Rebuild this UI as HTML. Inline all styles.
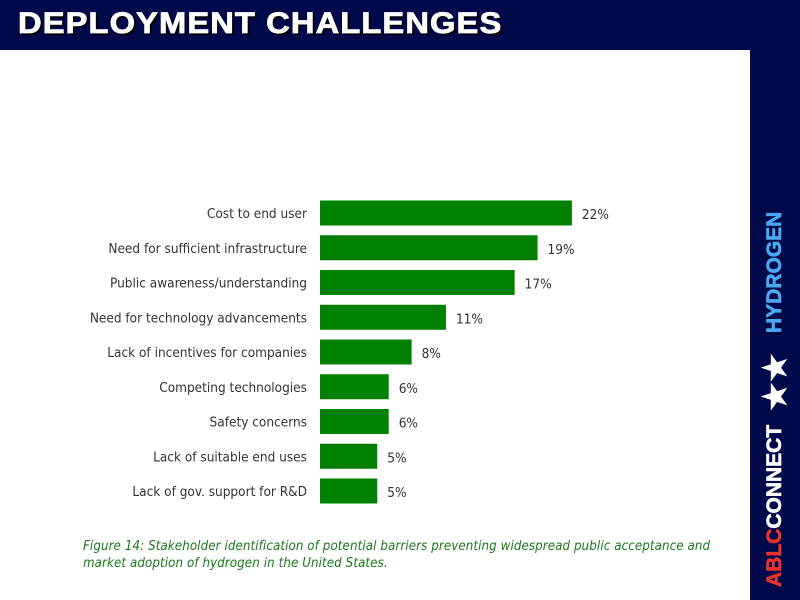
<!DOCTYPE html>
<html><head><meta charset="utf-8"><style>
body{margin:0;width:800px;height:600px;background:#fff;position:relative;overflow:hidden;font-family:"Liberation Sans",sans-serif}
#hdr{position:absolute;left:0;top:0;width:800px;height:50px;background:#000a4a}
#title{position:absolute;left:18px;top:7px;font-size:30px;font-weight:bold;color:#fff;text-shadow:2px 2px 0 #000;letter-spacing:1px;transform:scaleX(1.09);transform-origin:left top;-webkit-text-stroke:0.8px #fff}
#side{position:absolute;left:750px;top:0;width:50px;height:600px;background:#000a4a}
.vt{position:absolute;font-weight:bold;font-size:21px;transform:rotate(-90deg);transform-origin:left top;white-space:nowrap;-webkit-text-stroke:0.6px currentColor}
#cap{position:absolute;left:83px;top:538px;font-size:13.2px;font-style:italic;color:#1a7a1a;line-height:17px;font-family:"DejaVu Sans Condensed","Liberation Sans",sans-serif;letter-spacing:0.1px}
</style></head><body>
<div id="hdr"></div>
<div id="title">DEPLOYMENT CHALLENGES</div>
<div id="side"></div>
<div class="vt" style="left:763px;top:333px;color:#4aa8f0">HYDROGEN</div>
<div class="vt" style="left:758px;top:410px;color:#fff;font-size:30px;letter-spacing:2px">★★</div>
<div class="vt" style="left:763px;top:587px;color:#fff"><span style="color:#e8322e">ABLC</span>CONNECT</div>
<svg id="chart" width="750" height="600" style="position:absolute;left:0;top:0"></svg>
<div id="cap">Figure 14: Stakeholder identification of potential barriers preventing widespread public acceptance and<br>market adoption of hydrogen in the United States.</div>
<script>
const categories=["Cost to end user","Need for sufficient infrastructure","Public awareness/understanding","Need for technology advancements","Lack of incentives for companies","Competing technologies","Safety concerns","Lack of suitable end uses","Lack of gov. support for R&D"];
const values=[22,19,17,11,8,6,6,5,5];
const valueLabels=["22%","19%","17%","11%","8%","6%","6%","5%","5%"];
const svg=document.getElementById('chart');const NS='http://www.w3.org/2000/svg';
const x0=320,scale=11.45,y0=213,step=34.75,bh=25;
const xs=v=>x0+v*scale, ys=i=>y0+i*step;
categories.forEach((c,i)=>{
 const r=document.createElementNS(NS,'rect');
 r.setAttribute('x',x0);r.setAttribute('y',ys(i)-bh/2);r.setAttribute('width',xs(values[i])-x0);r.setAttribute('height',bh);r.setAttribute('fill','#008000');
 
 
 svg.appendChild(r);
 const t=document.createElementNS(NS,'text');
 t.setAttribute('x',x0-13);t.setAttribute('y',ys(i)+5);t.setAttribute('text-anchor','end');t.setAttribute('font-size','13.5');t.setAttribute('fill','#333');t.setAttribute('font-family','DejaVu Sans Condensed, Liberation Sans, sans-serif');
 t.textContent=c;
 
 
 svg.appendChild(t);
 const v=document.createElementNS(NS,'text');
 v.setAttribute('x',xs(values[i])+10);v.setAttribute('y',ys(i)+6);v.setAttribute('font-size','13.5');v.setAttribute('fill','#333');v.setAttribute('font-family','DejaVu Sans Condensed, Liberation Sans, sans-serif');
 v.textContent=valueLabels[i];
 
 
 svg.appendChild(v);
});
</script>
</body></html>
